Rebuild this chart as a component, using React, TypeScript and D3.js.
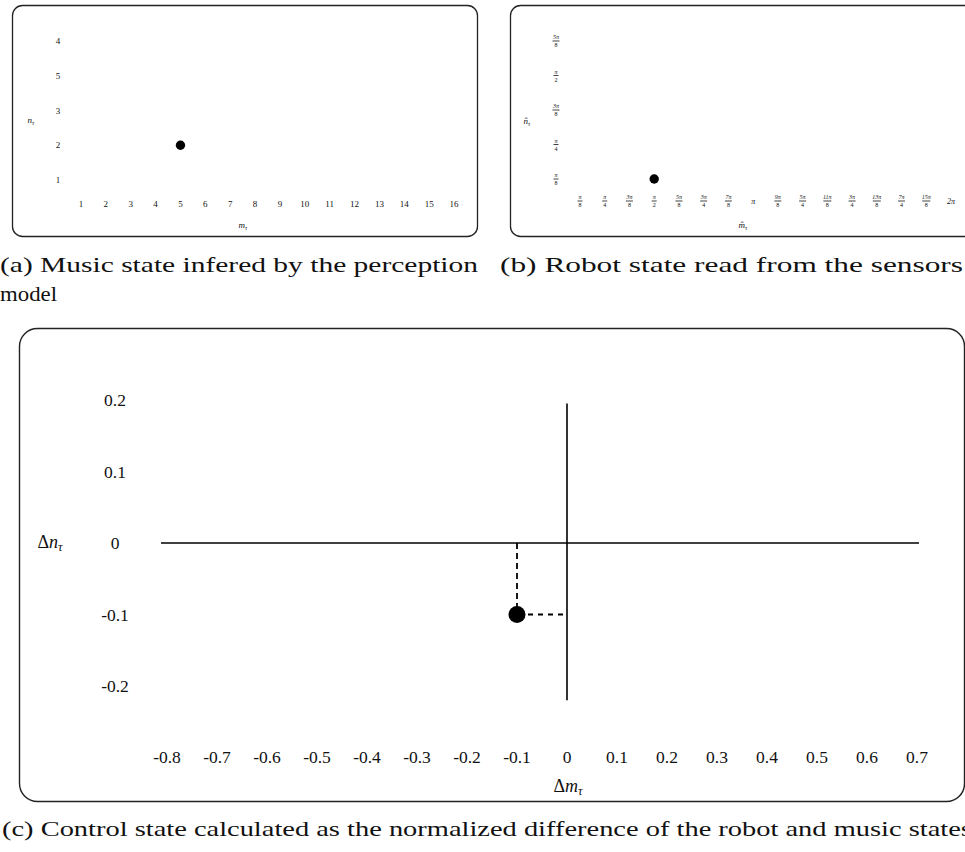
import * as d3 from 'd3';

// (a) music state: tick labels as printed
const mTicksA = ['1', '2', '3', '4', '5', '6', '7', '8', '9', '10', '11', '12', '13', '14', '15', '16'];
const nTicksA = ['4', '5', '3', '2', '1']; // top to bottom, as in the figure
const musicM = 5;
const musicN = '2';

// (b) robot state: values are multiples of pi/8
const mTicksB = ['π/8', 'π/4', '3π/8', 'π/2', '5π/8', '3π/4', '7π/8', 'π', '9π/8', '5π/4', '11π/8', '3π/4', '13π/8', '7π/4', '15π/8', '2π'];
const nTicksB = ['5π/8', 'π/2', '3π/8', 'π/4', 'π/8']; // top to bottom
const robotM = 4; // pi/2
const robotN = 1; // pi/8

// (c) control state
const dmTicks = [-0.8, -0.7, -0.6, -0.5, -0.4, -0.3, -0.2, -0.1, 0, 0.1, 0.2, 0.3, 0.4, 0.5, 0.6, 0.7];
const dnTicks = [0.2, 0.1, 0, -0.1, -0.2];
const dmAxisExtent = [-0.812, 0.704];
const dnAxisExtent = [-0.22, 0.195];
const controlDm = -0.1;
const controlDn = -0.1;

const FONT = '"Liberation Serif", "DejaVu Serif", serif';
const INK = '#111';

function Sub({ x, y, base, sub, size, pre = '', anchor = 'middle' }) {
  return (
    <text x={x} y={y} fontSize={size} textAnchor={anchor} dominantBaseline="central" fill={INK}>
      {pre && <tspan>{pre}</tspan>}
      <tspan fontStyle="italic">{base}</tspan>
      <tspan fontStyle="italic" fontSize={size * 0.7} dy={size * 0.25}>{sub}</tspan>
    </text>
  );
}

// small stacked fraction like in the latex figure
function PiLabel({ x, y, label }) {
  const parts = label.split('/');
  if (parts.length === 1) {
    return (
      <text x={x} y={y} fontSize={8} textAnchor="middle" dominantBaseline="central" fill={INK} fontStyle="italic">
        {label}
      </text>
    );
  }
  const [num, den] = parts;
  const w = num.length > 2 ? 8 : num.length > 1 ? 7 : 5;
  return (
    <g fill={INK}>
      <text x={x} y={y - 1.6} fontSize={6} textAnchor="middle" fontStyle="italic">{num}</text>
      <line x1={x - w / 2} x2={x + w / 2} y1={y} y2={y} stroke={INK} strokeWidth={0.8} />
      <text x={x} y={y + 6.2} fontSize={6} textAnchor="middle">{den}</text>
    </g>
  );
}

export default function App() {
  const W = 965;
  const H = 852;

  const xa = d3.scaleLinear().domain([1, 16]).range([81, 454]);
  const ya = d3.scalePoint().domain([...nTicksA].reverse()).range([180, 41]);

  const xb = d3.scaleLinear().domain([1, 16]).range([580, 951]);
  const yb = d3.scaleLinear().domain([1, 5]).range([179, 41]);

  const xc = d3.scaleLinear().domain([-0.8, 0.7]).range([167, 917]);
  const yc = d3.scaleLinear().domain([-0.2, 0.2]).range([686, 400]);

  return (
    <div style={{ position: 'absolute', left: 0, top: 0 }}>
      <svg width={W} height={H} fontFamily={FONT} style={{ display: 'block' }}>
        <rect width={W} height={H} fill="#fff" />

        {/* (a) */}
        <rect x={12.5} y={5.5} width={465} height={231} rx={10} fill="none" stroke="#222" strokeWidth={1.3} />
        {nTicksA.map(t => (
          <text key={t} x={58} y={ya(t)} fontSize={9} textAnchor="middle" dominantBaseline="central" fill={INK}>{t}</text>
        ))}
        {mTicksA.map((t, i) => (
          <text key={t} x={xa(i + 1)} y={204} fontSize={9} textAnchor="middle" dominantBaseline="central" fill={INK}>{t}</text>
        ))}
        <Sub x={31} y={120} base="n" sub="τ" size={9} />
        <Sub x={243} y={225} base="m" sub="τ" size={9} />
        <circle cx={xa(musicM)} cy={ya(musicN)} r={4.7} fill="#000" />

        {/* (b) */}
        <rect x={510.5} y={5.5} width={470} height={231} rx={10} fill="none" stroke="#222" strokeWidth={1.3} />
        {nTicksB.map((t, i) => (
          <PiLabel key={t} x={556} y={yb(nTicksB.length - i)} label={t} />
        ))}
        {mTicksB.map((t, i) => (
          <PiLabel key={i} x={xb(i + 1)} y={201} label={t} />
        ))}
        <Sub x={527} y={121} base={'n\u0302'} sub="τ" size={9} />
        <Sub x={743} y={225} base={'m\u0302'} sub="τ" size={9} />
        <circle cx={xb(robotM)} cy={yb(robotN)} r={4.7} fill="#000" />

        {/* captions a, b */}
        <text x={0} y={272} fontSize={22} textLength={478} lengthAdjust="spacingAndGlyphs" fill={INK}>
          (a) Music state infered by the perception
        </text>
        <text x={0} y={301} fontSize={22} textLength={57} lengthAdjust="spacingAndGlyphs" fill={INK}>model</text>
        <text x={500} y={272} fontSize={22} textLength={463} lengthAdjust="spacingAndGlyphs" fill={INK}>
          (b) Robot state read from the sensors
        </text>

        {/* (c) */}
        <rect x={19.5} y={328.5} width={945} height={473} rx={18} fill="none" stroke="#222" strokeWidth={1.4} />
        {dnTicks.map(t => (
          <text key={t} x={115} y={yc(t)} fontSize={17.5} textAnchor="middle" dominantBaseline="central" fill={INK}>{String(t)}</text>
        ))}
        {dmTicks.map(t => (
          <text key={t} x={xc(t)} y={757} fontSize={17.5} textAnchor="middle" dominantBaseline="central" fill={INK}>{String(t)}</text>
        ))}
        <Sub x={50} y={542} pre="Δ" base="n" sub="τ" size={18} />
        <Sub x={568} y={786} pre="Δ" base="m" sub="τ" size={18} />

        <line x1={xc(dmAxisExtent[0])} x2={xc(dmAxisExtent[1])} y1={yc(0)} y2={yc(0)} stroke="#000" strokeWidth={1.6} />
        <line x1={xc(0)} x2={xc(0)} y1={yc(dnAxisExtent[0])} y2={yc(dnAxisExtent[1])} stroke="#000" strokeWidth={1.6} />

        <line x1={xc(controlDm)} x2={xc(controlDm)} y1={yc(0)} y2={yc(controlDn)} stroke="#000" strokeWidth={1.8} strokeDasharray="6,4" />
        <line x1={xc(controlDm)} x2={xc(0)} y1={yc(controlDn)} y2={yc(controlDn)} stroke="#000" strokeWidth={1.8} strokeDasharray="5,5" strokeDashoffset={-1} />
        <circle cx={xc(controlDm)} cy={yc(controlDn)} r={8.5} fill="#000" />

        <text x={2} y={836} fontSize={22} textLength={977} lengthAdjust="spacingAndGlyphs" fill={INK}>
          (c) Control state calculated as the normalized difference of the robot and music states.
        </text>
      </svg>
    </div>
  );
}
